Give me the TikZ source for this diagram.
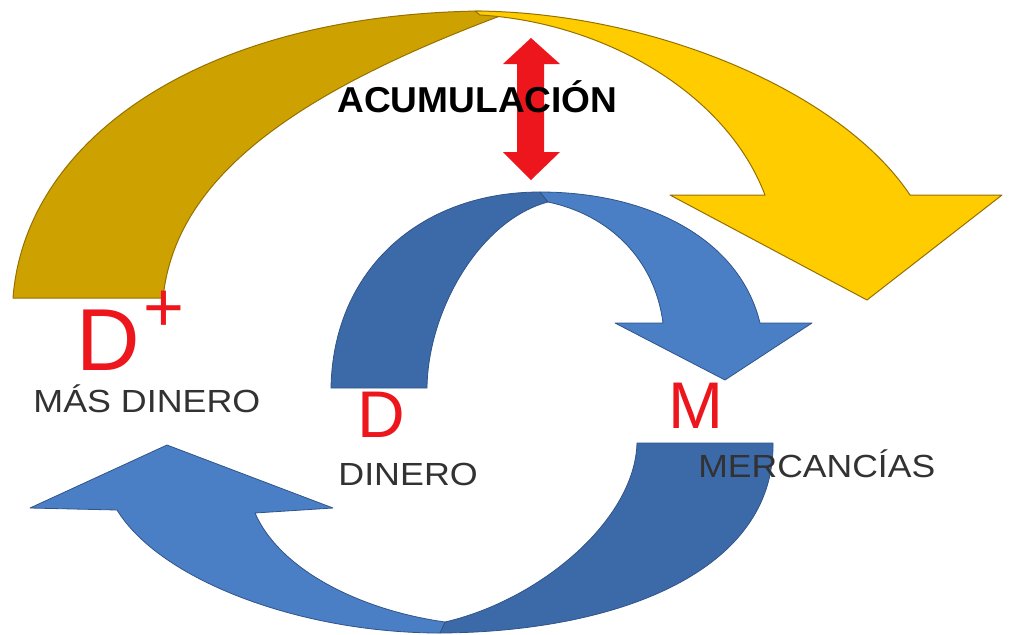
\documentclass[tikz,border=0pt]{standalone}
\usepackage{fontspec}
\setmainfont{Liberation Sans}
\definecolor{goldback}{RGB}{205,162,0}
\definecolor{goldfront}{RGB}{255,204,0}
\definecolor{goldline}{RGB}{150,112,0}
\definecolor{blueback}{RGB}{60,106,168}
\definecolor{bluefront}{RGB}{74,127,198}
\definecolor{blueline}{RGB}{48,84,136}
\definecolor{redarrow}{RGB}{236,22,28}
\definecolor{labelgray}{RGB}{50,50,50}
\begin{document}
\begin{tikzpicture}[x=0.5pt,y=-0.5pt,
  yback/.style={fill=goldback, draw=goldline, line width=0.5pt, line join=round},
  yfront/.style={fill=goldfront, draw=goldline, line width=0.5pt, line join=round},
  bback/.style={fill=blueback, draw=blueline, line width=0.4pt, line join=round},
  bfront/.style={fill=bluefront, draw=blueline, line width=0.4pt, line join=round},
  redbox/.style={fill=redarrow, draw=none},
  lbl/.style={text=labelgray, inner sep=0pt, anchor=base west, font=\fontsize{16pt}{19pt}\selectfont},
  bigletter/.style={text=redarrow, inner sep=0pt, anchor=base west}]
\useasboundingbox (0,0) rectangle (1014,634);
\fill[white] (0,0) rectangle (1014,634);

% yellow curved arrow: back (left) part
\path[yback] (13,298) .. controls (25,140) and (200,15) .. (480,11)
  -- (500,16) .. controls (290,95) and (175,180) .. (163,298) -- cycle;
% yellow curved arrow: front (right) part with head
\path[yfront] (475,11) .. controls (650,12) and (840,90) .. (910,195)
  -- (1002,195) -- (867,300) -- (670,195) -- (765,195)
  .. controls (725,90) and (600,22) .. (480,15) -- cycle;

% upper blue arrow: back (left) part
\path[bback] (331,388) .. controls (333,270) and (420,192) .. (540,192)
  -- (548,202) .. controls (480,220) and (428,310) .. (427,388) -- cycle;
% upper blue arrow: front (right) part with head
\path[bfront] (540,192) .. controls (650,192) and (740,240) .. (760,323)
  -- (812,323) -- (725,380) -- (615,323) -- (663,323)
  .. controls (655,260) and (610,215) .. (548,202) -- cycle;

% lower blue arrow: back (right) part
\path[bback] (637,443) -- (773,443) .. controls (775,570) and (620,632) .. (440,633)
  -- (445,622) .. controls (540,600) and (635,520) .. (637,443) -- cycle;
% lower blue arrow: front (left) part with head
\path[bfront] (440,633) .. controls (300,633) and (160,580) .. (117,510)
  -- (30,508) -- (167,445) -- (333,508) -- (255,513)
  .. controls (280,570) and (360,610) .. (445,622) -- cycle;

% red double arrow
\path[redbox] (531,38) -- (560,64) -- (544,64) -- (544,152) -- (560,152)
  -- (531,180) -- (503,152) -- (517,152) -- (517,64) -- (503,64) -- cycle;

% labels
\node[inner sep=0pt, anchor=base west, font=\bfseries\fontsize{18pt}{21pt}\selectfont] (acum) at (337,112) {\scalebox{1.03}[1]{ACUMULACIÓN}};
\node[bigletter, font=\fontsize{44pt}{48pt}\selectfont] (dplus) at (76,370) {D};
\node[text=redarrow, inner sep=0pt, font=\fontsize{35pt}{38pt}\selectfont] (plus) at (164,311) {+};
\node[lbl] (masdinero) at (33,412) {\scalebox{1.12}[1]{MÁS DINERO}};
\node[bigletter, font=\fontsize{33pt}{36pt}\selectfont] (dd) at (357,437) {D};
\node[lbl] (dinero) at (338,485) {\scalebox{1.12}[1]{DINERO}};
\node[bigletter, font=\fontsize{33pt}{36pt}\selectfont] (mm) at (668,428) {M};
\node[lbl] (merc) at (698,477) {\scalebox{1.11}[1]{MERCANCÍAS}};
\end{tikzpicture}
\end{document}
